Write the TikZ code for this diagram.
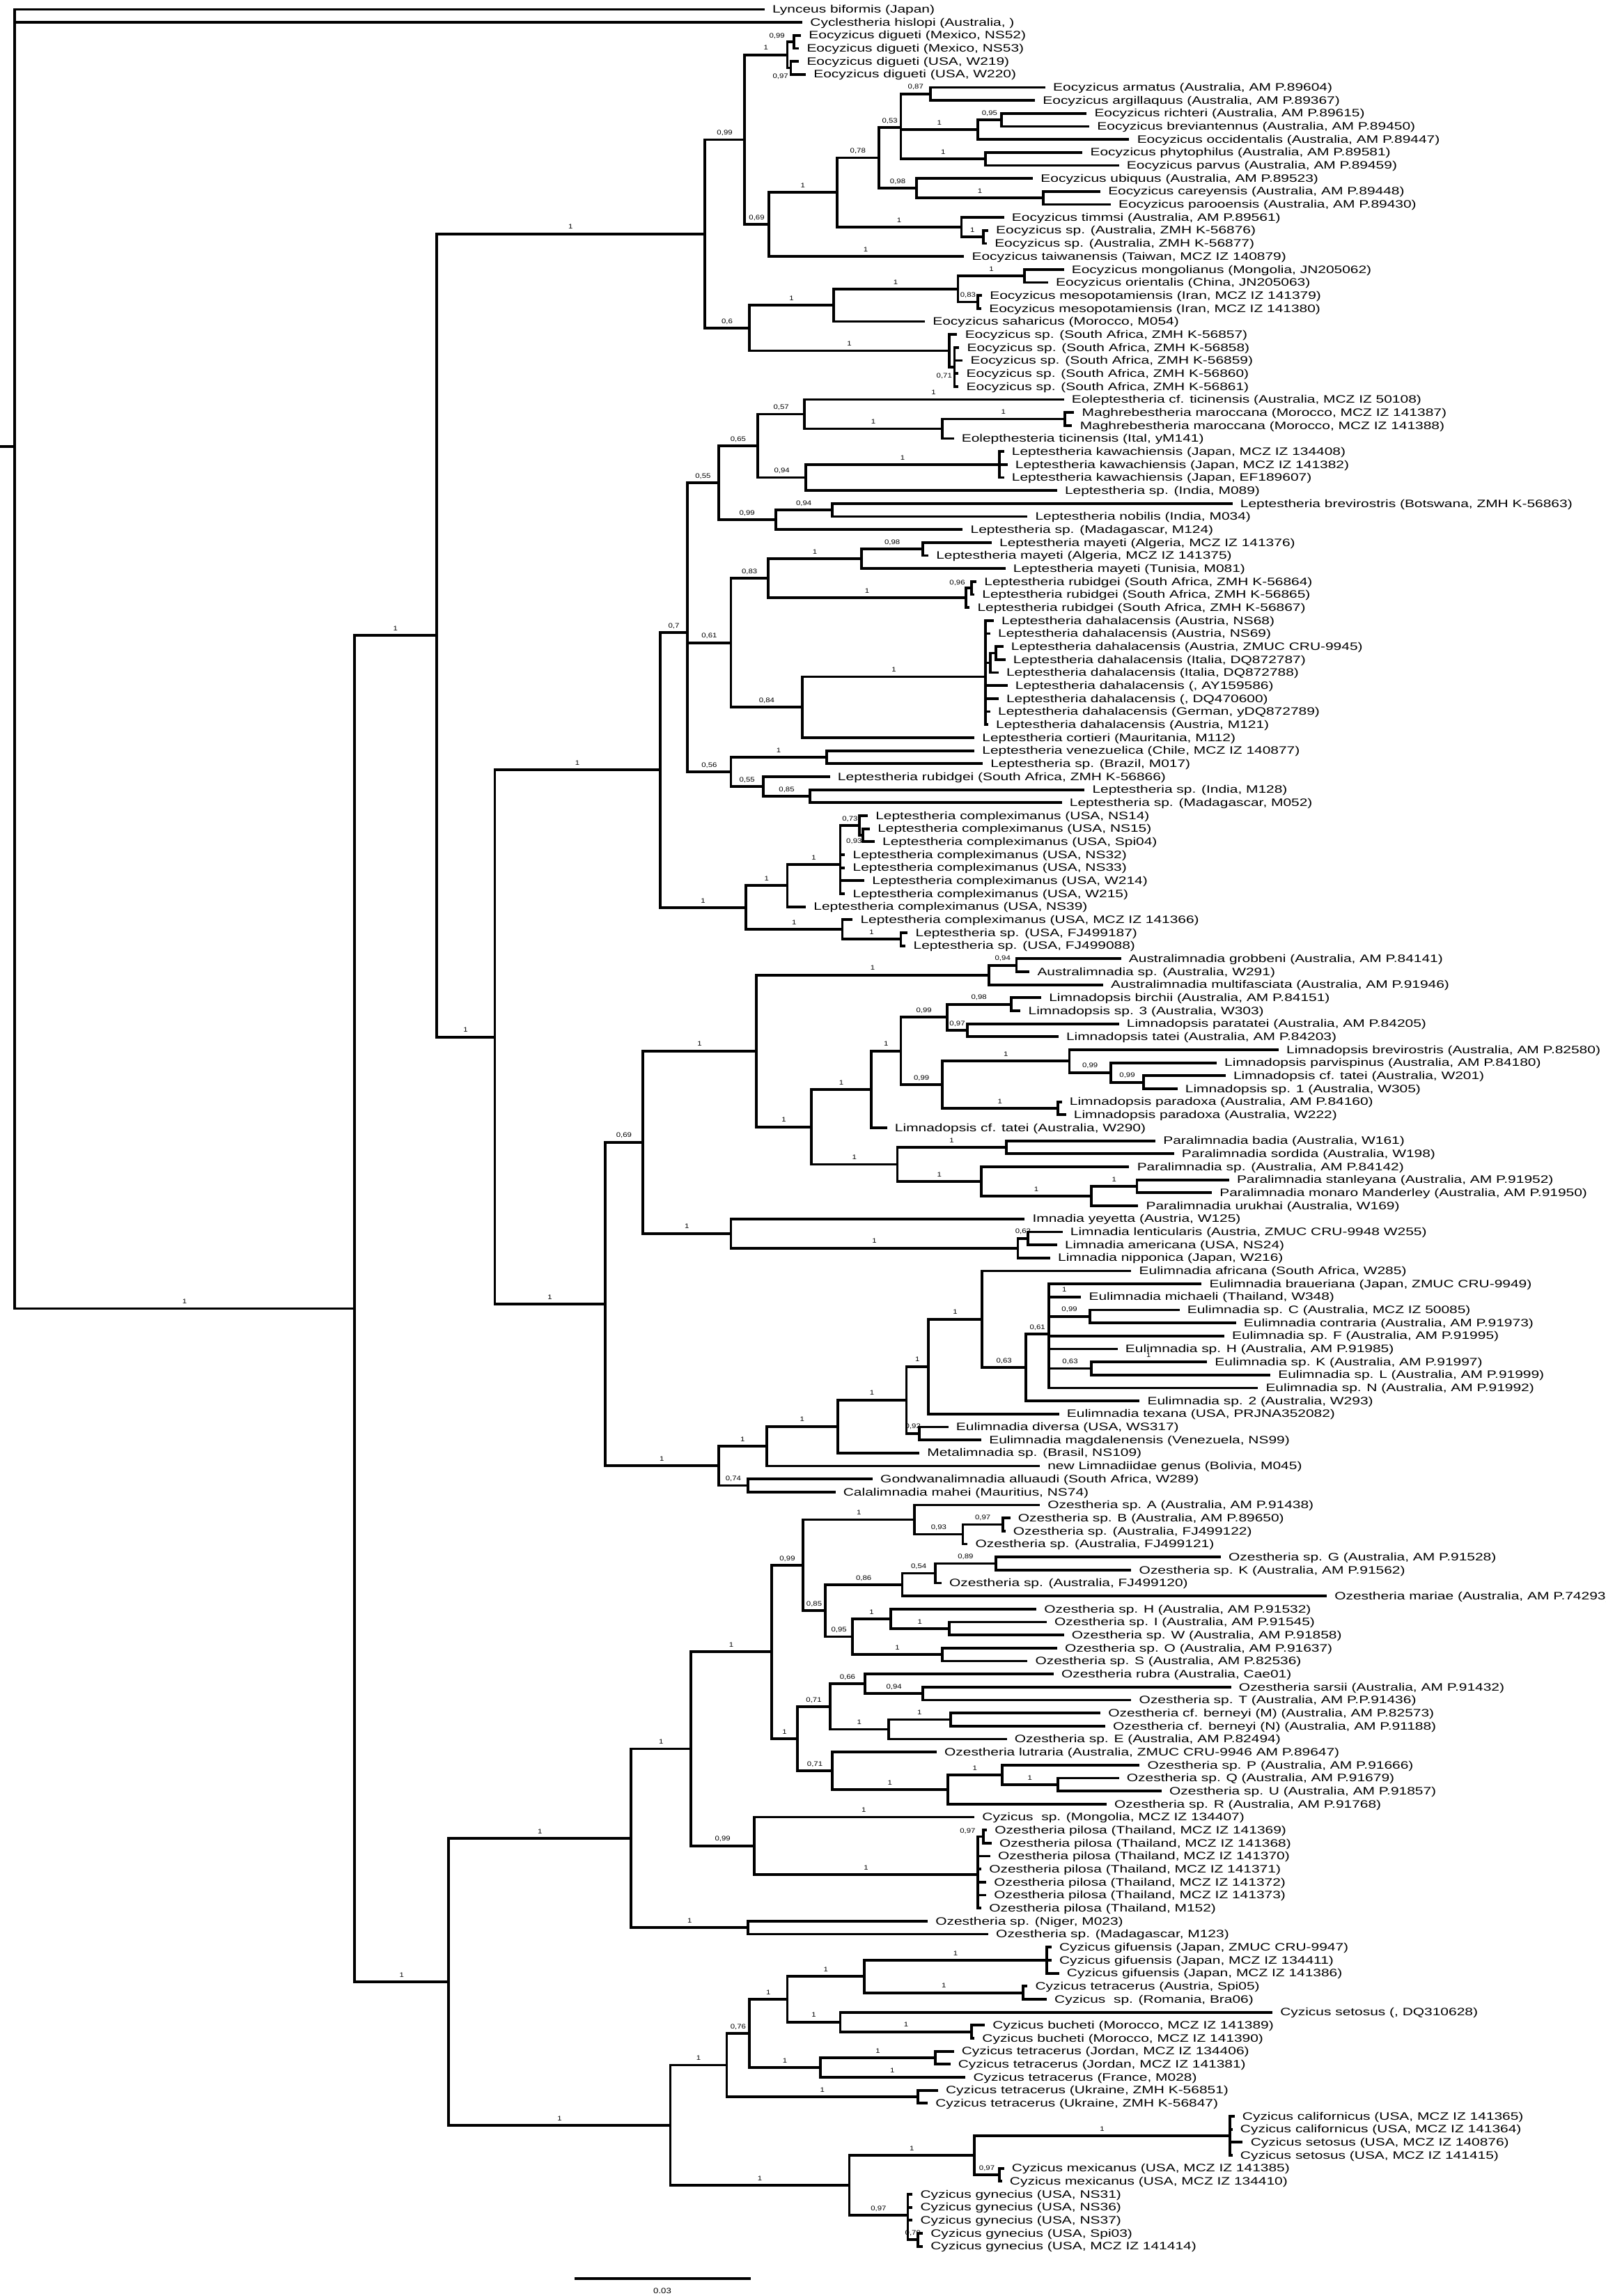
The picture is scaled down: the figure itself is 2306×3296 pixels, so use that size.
\documentclass[tikz,border=0pt]{standalone}
\usepackage{fontspec}
\setmainfont{Liberation Sans}
\usetikzlibrary{calc}
\newdimen\ysum
\newdimen\yfirst
\newcount\ncnt
\newcount\labcnt
\def\nolab{-}
\newcommand\lfont{\fontsize{15.5}{15.5}\selectfont}
\newcommand\sfont{\fontsize{9.5}{9.5}\selectfont}
\tikzset{
  br/.style={line width=3.8pt,line cap=rect},
  lab/.style={anchor=base west,inner sep=0pt,xshift=13pt,yshift=-5.2pt,font=\lfont},
  supl/.style={anchor=base,inner sep=0pt,yshift=6.8pt,font=\sfont},
  supc/.style={anchor=center,inner sep=0pt,font=\sfont},
}
\newcommand\lf[3]{%
  \coordinate (l#1) at ({0.988*#2+9.1},{13.4+18.67*#1});
  \node[lab] (t#1) at (l#1) {\scalebox{1.35}[1]{#3}};
}
\newcommand\tn[3]{%
  \global\ysum=0pt\relax
  \global\ncnt=0\relax
  \foreach \cc/\lb in {#3}{%
    \pgfextracty{\dimen0}{\pgfpointanchor{\cc}{center}}%
    \ifnum\ncnt=0 \global\yfirst=\dimen0 \xdef\firstc{\cc}\fi
    \advance\dimen0 by -\yfirst
    \global\advance\ysum by \dimen0
    \global\advance\ncnt by 1\relax
    \xdef\lastc{\cc}%
  }%
  \global\divide\ysum by \ncnt
  \global\advance\ysum by \yfirst
  \pgfmathsetmacro\nx{0.988*#2+9.1}%
  \coordinate (#1) at (\nx pt,\the\ysum);
  \draw[br] (#1 |- \firstc) -- (#1 |- \lastc);
  \foreach \cc/\lb in {#3}{%
    \draw[br] (#1 |- \cc) -- (\cc);
    \edef\tmp{\lb}%
    \ifx\tmp\nolab\else
      \global\advance\labcnt by 1\relax
      \path (#1 |- \cc) -- node[supl] (s\the\labcnt) {\scalebox{1.2}[1]{\lb}} (\cc);
    \fi
  }%
}
\newcommand\ol[3]{%
  \global\advance\labcnt by 1\relax
  \node[supc] (o\the\labcnt) at ({0.988*#1+9.1},#2) {\scalebox{1.2}[1]{#3}};
}
\begin{document}
\begin{tikzpicture}[x=1pt,y=-1pt]
\useasboundingbox (0,0) rectangle (2306,3296);
\coordinate (origin) at (0,0);
% ---------------- leaves ----------------
\lf{0}{1100}{Lynceus biformis (Japan)}
\lf{1}{1155}{Cyclestheria hislopi (Australia, )}
\lf{2}{1153}{Eocyzicus digueti (Mexico, NS52)}
\lf{3}{1150}{Eocyzicus digueti (Mexico, NS53)}
\lf{4}{1150}{Eocyzicus digueti (USA, W219)}
\lf{5}{1160}{Eocyzicus digueti (USA, W220)}
\lf{6}{1508}{Eocyzicus armatus (Australia, AM P.89604)}
\lf{7}{1493}{Eocyzicus argillaquus (Australia, AM P.89367)}
\lf{8}{1568}{Eocyzicus richteri (Australia, AM P.89615)}
\lf{9}{1572}{Eocyzicus breviantennus (Australia, AM P.89450)}
\lf{10}{1630}{Eocyzicus occidentalis (Australia, AM P.89447)}
\lf{11}{1562}{Eocyzicus phytophilus (Australia, AM P.89581)}
\lf{12}{1615}{Eocyzicus parvus (Australia, AM P.89459)}
\lf{13}{1490}{Eocyzicus ubiquus (Australia, AM P.89523)}
\lf{14}{1588}{Eocyzicus careyensis (Australia, AM P.89448)}
\lf{15}{1603}{Eocyzicus parooensis (Australia, AM P.89430)}
\lf{16}{1448}{Eocyzicus timmsi (Australia, AM P.89561)}
\lf{17}{1425}{Eocyzicus sp. (Australia, ZMH K-56876)}
\lf{18}{1423}{Eocyzicus sp. (Australia, ZMH K-56877)}
\lf{19}{1390}{Eocyzicus taiwanensis (Taiwan, MCZ IZ 140879)}
\lf{20}{1535}{Eocyzicus mongolianus (Mongolia, JN205062)}
\lf{21}{1512}{Eocyzicus orientalis (China, JN205063)}
\lf{22}{1416}{Eocyzicus mesopotamiensis (Iran, MCZ IZ 141379)}
\lf{23}{1415}{Eocyzicus mesopotamiensis (Iran, MCZ IZ 141380)}
\lf{24}{1333}{Eocyzicus saharicus (Morocco, M054)}
\lf{25}{1380}{Eocyzicus sp. (South Africa, ZMH K-56857)}
\lf{26}{1383}{Eocyzicus sp. (South Africa, ZMH K-56858)}
\lf{27}{1388}{Eocyzicus sp. (South Africa, ZMH K-56859)}
\lf{28}{1382}{Eocyzicus sp. (South Africa, ZMH K-56860)}
\lf{29}{1382}{Eocyzicus sp. (South Africa, ZMH K-56861)}
\lf{30}{1535}{Eoleptestheria cf. ticinensis (Australia, MCZ IZ 50108)}
\lf{31}{1550}{Maghrebestheria maroccana (Morocco, MCZ IZ 141387)}
\lf{32}{1547}{Maghrebestheria maroccana (Morocco, MCZ IZ 141388)}
\lf{33}{1375}{Eolepthesteria ticinensis (Ital, yM141)}
\lf{34}{1448}{Leptestheria kawachiensis (Japan, MCZ IZ 134408)}
\lf{35}{1453}{Leptestheria kawachiensis (Japan, MCZ IZ 141382)}
\lf{36}{1448}{Leptestheria kawachiensis (Japan, EF189607)}
\lf{37}{1525}{Leptestheria sp. (India, M089)}
\lf{38}{1780}{Leptestheria brevirostris (Botswana, ZMH K-56863)}
\lf{39}{1482}{Leptestheria nobilis (India, M034)}
\lf{40}{1388}{Leptestheria sp. (Madagascar, M124)}
\lf{41}{1430}{Leptestheria mayeti (Algeria, MCZ IZ 141376)}
\lf{42}{1338}{Leptestheria mayeti (Algeria, MCZ IZ 141375)}
\lf{43}{1450}{Leptestheria mayeti (Tunisia, M081)}
\lf{44}{1408}{Leptestheria rubidgei (South Africa, ZMH K-56864)}
\lf{45}{1405}{Leptestheria rubidgei (South Africa, ZMH K-56865)}
\lf{46}{1398}{Leptestheria rubidgei (South Africa, ZMH K-56867)}
\lf{47}{1433}{Leptestheria dahalacensis (Austria, NS68)}
\lf{48}{1428}{Leptestheria dahalacensis (Austria, NS69)}
\lf{49}{1447}{Leptestheria dahalacensis (Austria, ZMUC CRU-9945)}
\lf{50}{1450}{Leptestheria dahalacensis (Italia, DQ872787)}
\lf{51}{1440}{Leptestheria dahalacensis (Italia, DQ872788)}
\lf{52}{1453}{Leptestheria dahalacensis (, AY159586)}
\lf{53}{1440}{Leptestheria dahalacensis (, DQ470600)}
\lf{54}{1428}{Leptestheria dahalacensis (German, yDQ872789)}
\lf{55}{1425}{Leptestheria dahalacensis (Austria, M121)}
\lf{56}{1405}{Leptestheria cortieri (Mauritania, M112)}
\lf{57}{1405}{Leptestheria venezuelica (Chile, MCZ IZ 140877)}
\lf{58}{1417}{Leptestheria sp. (Brazil, M017)}
\lf{59}{1195}{Leptestheria rubidgei (South Africa, ZMH K-56866)}
\lf{60}{1565}{Leptestheria sp. (India, M128)}
\lf{61}{1532}{Leptestheria sp. (Madagascar, M052)}
\lf{62}{1250}{Leptestheria compleximanus (USA, NS14)}
\lf{63}{1253}{Leptestheria compleximanus (USA, NS15)}
\lf{64}{1260}{Leptestheria compleximanus (USA, Spi04)}
\lf{65}{1217}{Leptestheria compleximanus (USA, NS32)}
\lf{66}{1217}{Leptestheria compleximanus (USA, NS33)}
\lf{67}{1245}{Leptestheria compleximanus (USA, W214)}
\lf{68}{1217}{Leptestheria compleximanus (USA, W215)}
\lf{69}{1160}{Leptestheria compleximanus (USA, NS39)}
\lf{70}{1228}{Leptestheria compleximanus (USA, MCZ IZ 141366)}
\lf{71}{1308}{Leptestheria sp. (USA, FJ499187)}
\lf{72}{1305}{Leptestheria sp. (USA, FJ499088)}
\lf{73}{1618}{Australimnadia grobbeni (Australia, AM P.84141)}
\lf{74}{1485}{Australimnadia sp. (Australia, W291)}
\lf{75}{1592}{Australimnadia multifasciata (Australia, AM P.91946)}
\lf{76}{1502}{Limnadopsis birchii (Australia, AM P.84151)}
\lf{77}{1472}{Limnadopsis sp. 3 (Australia, W303)}
\lf{78}{1615}{Limnadopsis paratatei (Australia, AM P.84205)}
\lf{79}{1527}{Limnadopsis tatei (Australia, AM P.84203)}
\lf{80}{1847}{Limnadopsis brevirostris (Australia, AM P.82580)}
\lf{81}{1757}{Limnadopsis parvispinus (Australia, AM P.84180)}
\lf{82}{1770}{Limnadopsis cf. tatei (Australia, W201)}
\lf{83}{1700}{Limnadopsis sp. 1 (Australia, W305)}
\lf{84}{1532}{Limnadopsis paradoxa (Australia, AM P.84160)}
\lf{85}{1538}{Limnadopsis paradoxa (Australia, W222)}
\lf{86}{1278}{Limnadopsis cf. tatei (Australia, W290)}
\lf{87}{1668}{Paralimnadia badia (Australia, W161)}
\lf{88}{1695}{Paralimnadia sordida (Australia, W198)}
\lf{89}{1630}{Paralimnadia sp. (Australia, AM P.84142)}
\lf{90}{1775}{Paralimnadia stanleyana (Australia, AM P.91952)}
\lf{91}{1750}{Paralimnadia monaro Manderley (Australia, AM P.91950)}
\lf{92}{1643}{Paralimnadia urukhai (Australia, W169)}
\lf{93}{1478}{Imnadia yeyetta (Austria, W125)}
\lf{94}{1533}{Limnadia lenticularis (Austria, ZMUC CRU-9948 W255)}
\lf{95}{1525}{Limnadia americana (USA, NS24)}
\lf{96}{1515}{Limnadia nipponica (Japan, W216)}
\lf{97}{1633}{Eulimnadia africana (South Africa, W285)}
\lf{98}{1735}{Eulimnadia braueriana (Japan, ZMUC CRU-9949)}
\lf{99}{1560}{Eulimnadia michaeli (Thailand, W348)}
\lf{100}{1703}{Eulimnadia sp. C (Australia, MCZ IZ 50085)}
\lf{101}{1785}{Eulimnadia contraria (Australia, AM P.91973)}
\lf{102}{1768}{Eulimnadia sp. F (Australia, AM P.91995)}
\lf{103}{1613}{Eulimnadia sp. H (Australia, AM P.91985)}
\lf{104}{1743}{Eulimnadia sp. K (Australia, AM P.91997)}
\lf{105}{1835}{Eulimnadia sp. L (Australia, AM P.91999)}
\lf{106}{1817}{Eulimnadia sp. N (Australia, AM P.91992)}
\lf{107}{1645}{Eulimnadia sp. 2 (Australia, W293)}
\lf{108}{1528}{Eulimnadia texana (USA, PRJNA352082)}
\lf{109}{1367}{Eulimnadia diversa (USA, WS317)}
\lf{110}{1415}{Eulimnadia magdalenensis (Venezuela, NS99)}
\lf{111}{1325}{Metalimnadia sp. (Brasil, NS109)}
\lf{112}{1500}{new Limnadiidae genus (Bolivia, M045)}
\lf{113}{1257}{Gondwanalimnadia alluaudi (South Africa, W289)}
\lf{114}{1203}{Calalimnadia mahei (Mauritius, NS74)}
\lf{115}{1500}{Ozestheria sp. A (Australia, AM P.91438)}
\lf{116}{1457}{Ozestheria sp. B (Australia, AM P.89650)}
\lf{117}{1450}{Ozestheria sp. (Australia, FJ499122)}
\lf{118}{1395}{Ozestheria sp. (Australia, FJ499121)}
\lf{119}{1763}{Ozestheria sp. G (Australia, AM P.91528)}
\lf{120}{1633}{Ozestheria sp. K (Australia, AM P.91562)}
\lf{121}{1357}{Ozestheria sp. (Australia, FJ499120)}
\lf{122}{1917}{Ozestheria mariae (Australia, AM P.74293)}
\lf{123}{1495}{Ozestheria sp. H (Australia, AM P.91532)}
\lf{124}{1510}{Ozestheria sp. I (Australia, AM P.91545)}
\lf{125}{1535}{Ozestheria sp. W (Australia, AM P.91858)}
\lf{126}{1525}{Ozestheria sp. O (Australia, AM P.91637)}
\lf{127}{1482}{Ozestheria sp. S (Australia, AM P.82536)}
\lf{128}{1520}{Ozestheria rubra (Australia, Cae01)}
\lf{129}{1778}{Ozestheria sarsii (Australia, AM P.91432)}
\lf{130}{1633}{Ozestheria sp. T (Australia, AM P.P.91436)}
\lf{131}{1588}{Ozestheria cf. berneyi (M) (Australia, AM P.82573)}
\lf{132}{1595}{Ozestheria cf. berneyi (N) (Australia, AM P.91188)}
\lf{133}{1452}{Ozestheria sp. E (Australia, AM P.82494)}
\lf{134}{1350}{Ozestheria lutraria (Australia, ZMUC CRU-9946 AM P.89647)}
\lf{135}{1645}{Ozestheria sp. P (Australia, AM P.91666)}
\lf{136}{1615}{Ozestheria sp. Q (Australia, AM P.91679)}
\lf{137}{1677}{Ozestheria sp. U (Australia, AM P.91857)}
\lf{138}{1597}{Ozestheria sp. R (Australia, AM P.91768)}
\lf{139}{1405}{Cyzicus\ \ sp. (Mongolia, MCZ IZ 134407)}
\lf{140}{1423}{Ozestheria pilosa (Thailand, MCZ IZ 141369)}
\lf{141}{1430}{Ozestheria pilosa (Thailand, MCZ IZ 141368)}
\lf{142}{1428}{Ozestheria pilosa (Thailand, MCZ IZ 141370)}
\lf{143}{1415}{Ozestheria pilosa (Thailand, MCZ IZ 141371)}
\lf{144}{1422}{Ozestheria pilosa (Thailand, MCZ IZ 141372)}
\lf{145}{1422}{Ozestheria pilosa (Thailand, MCZ IZ 141373)}
\lf{146}{1415}{Ozestheria pilosa (Thailand, M152)}
\lf{147}{1337}{Ozestheria sp. (Niger, M023)}
\lf{148}{1425}{Ozestheria sp. (Madagascar, M123)}
\lf{149}{1517}{Cyzicus gifuensis (Japan, ZMUC CRU-9947)}
\lf{150}{1517}{Cyzicus gifuensis (Japan, MCZ IZ 134411)}
\lf{151}{1528}{Cyzicus gifuensis (Japan, MCZ IZ 141386)}
\lf{152}{1482}{Cyzicus tetracerus (Austria, Spi05)}
\lf{153}{1510}{Cyzicus\ \ sp. (Romania, Bra06)}
\lf{154}{1838}{Cyzicus setosus (, DQ310628)}
\lf{155}{1420}{Cyzicus bucheti (Morocco, MCZ IZ 141389)}
\lf{156}{1405}{Cyzicus bucheti (Morocco, MCZ IZ 141390)}
\lf{157}{1375}{Cyzicus tetracerus (Jordan, MCZ IZ 134406)}
\lf{158}{1370}{Cyzicus tetracerus (Jordan, MCZ IZ 141381)}
\lf{159}{1392}{Cyzicus tetracerus (France, M028)}
\lf{160}{1352}{Cyzicus tetracerus (Ukraine, ZMH K-56851)}
\lf{161}{1337}{Cyzicus tetracerus (Ukraine, ZMH K-56847)}
\lf{162}{1783}{Cyzicus californicus (USA, MCZ IZ 141365)}
\lf{163}{1780}{Cyzicus californicus (USA, MCZ IZ 141364)}
\lf{164}{1795}{Cyzicus setosus (USA, MCZ IZ 140876)}
\lf{165}{1780}{Cyzicus setosus (USA, MCZ IZ 141415)}
\lf{166}{1448}{Cyzicus mexicanus (USA, MCZ IZ 141385)}
\lf{167}{1445}{Cyzicus mexicanus (USA, MCZ IZ 134410)}
\lf{168}{1315}{Cyzicus gynecius (USA, NS31)}
\lf{169}{1315}{Cyzicus gynecius (USA, NS36)}
\lf{170}{1315}{Cyzicus gynecius (USA, NS37)}
\lf{171}{1330}{Cyzicus gynecius (USA, Spi03)}
\lf{172}{1330}{Cyzicus gynecius (USA, MCZ IZ 141414)}
% ---------------- Eocyzicus ----------------
\tn{nDa}{1145}{l2/-,l3/-}
\tn{nDb}{1140}{l4/-,l5/-}
\tn{nD}{1135}{nDa/-,nDb/-}
\tn{nEa}{1343}{l6/-,l7/-}
\tn{nEq}{1446}{l8/-,l9/-}
\tn{nEg}{1412}{nEq/{0,95},l10/-}
\tn{nEh}{1423}{l11/-,l12/-}
\tn{nEe}{1300}{nEa/{0,87},nEg/1,nEh/1}
\tn{nEcp}{1507}{l14/-,l15/-}
\tn{nEf}{1323}{l13/-,nEcp/1}
\tn{nEd}{1268}{nEe/{0,53},nEf/{0,98}}
\tn{nEk}{1420}{l17/-,l18/-}
\tn{nT}{1388}{l16/-,nEk/1}
\tn{nEc}{1207}{nEd/{0,78},nT/1}
\tn{nEb}{1108}{nEc/1,l19/1}
\tn{nEone}{1073}{nD/1,nEb/{0,69}}
\tn{nMO}{1480}{l20/-,l21/-}
\tn{nME}{1412}{l22/-,l23/-}
\tn{nEtb}{1383}{nMO/1,nME/{0,83}}
\tn{nEta}{1202}{nEtb/1,l24/-}
\tn{nSb}{1378}{l26/-,l27/-,l28/-,l29/-}
\tn{nSA}{1370}{l25/-,nSb/-}
\tn{nEtwo}{1080}{nEta/1,nSA/1}
\tn{nE}{1015}{nEone/{0,99},nEtwo/{0,6}}
% ---------------- Leptestheriidae ----------------
\tn{nMG}{1538}{l31/-,l32/-}
\tn{nM}{1360}{nMG/1,l33/-}
\tn{nFs}{1160}{l30/1,nM/1}
\tn{nKW}{1443}{l34/-,l35/-,l36/-}
\tn{nNa}{1162}{nKW/1,l37/-}
\tn{nSf}{1092}{nFs/{0,57},nNa/{0,94}}
\tn{nNb}{1200}{l38/-,l39/-}
\tn{nNN}{1118}{nNb/{0,94},l40/-}
\tn{nFFa}{1035}{nSf/{0,65},nNN/{0,99}}
\tn{nMYa}{1332}{l41/-,l42/-}
\tn{nMY}{1243}{nMYa/{0,98},l43/-}
\tn{nRBa}{1403}{l44/-,l45/-}
\tn{nRB}{1395}{nRBa/-,l46/-}
\tn{nEt}{1107}{nMY/1,nRB/1}
\tn{nDc}{1438}{l49/-,l50/-}
\tn{nDb2}{1430}{nDc/-,l51/-}
\tn{nDH}{1423}{l47/-,l48/-,nDb2/-,l52/-,l53/-,l54/-,l55/-}
\tn{nEf4}{1157}{nDH/1,l56/-}
\tn{nSo}{1053}{nEt/{0,83},nEf4/{0,84}}
\tn{nVZ}{1192}{l57/-,l58/-}
\tn{nEfv}{1168}{l60/-,l61/-}
\tn{nFFb}{1100}{l59/-,nEfv/{0,85}}
\tn{nFS}{1053}{nVZ/1,nFFb/{0,55}}
\tn{nSev}{990}{nFFa/{0,55},nSo/{0,61},nFS/{0,56}}
\tn{nNT}{1245}{l63/-,l64/-}
\tn{nST}{1240}{l62/-,nNT/-}
\tn{nCXb}{1212}{nST/{0,73},l65/-,l66/-,l67/-,l68/-}
\tn{nCXa}{1135}{nCXb/1,l69/-}
\tn{nFJ}{1300}{l71/-,l72/-}
\tn{nCXc}{1215}{l70/-,nFJ/1}
\tn{nCX}{1075}{nCXa/1,nCXc/1}
\tn{nLP}{950}{nSev/{0,7},nCX/1}
% ---------------- Limnadiidae ----------------
\tn{nAUa}{1468}{l73/-,l74/-}
\tn{nAU}{1428}{nAUa/{0,94},l75/-}
\tn{nBI}{1460}{l76/-,l77/-}
\tn{nPT}{1397}{l78/-,l79/-}
\tn{nLDa}{1367}{nBI/{0,98},nPT/{0,97}}
\tn{nWW}{1653}{l82/-,l83/-}
\tn{nPV}{1605}{l81/-,nWW/{0,99}}
\tn{nBR}{1545}{l80/-,nPV/{0,99}}
\tn{nPX}{1528}{l84/-,l85/-}
\tn{nLDb}{1360}{nBR/1,nPX/1}
\tn{nLDo}{1300}{nLDa/{0,99},nLDb/{0,99}}
\tn{nLD}{1257}{nLDo/1,l86/-}
\tn{nBS}{1453}{l87/-,l88/-}
\tn{nSM}{1643}{l90/-,l91/-}
\tn{nSU}{1577}{nSM/1,l92/-}
\tn{nPS}{1417}{l89/-,nSU/1}
\tn{nPA}{1295}{nBS/1,nPS/1}
\tn{nLAb}{1170}{nLD/1,nPA/1}
\tn{nLA}{1090}{nAU/1,nLAb/1}
\tn{nLIa}{1485}{l94/-,l95/-}
\tn{nLI}{1470}{nLIa/{0,62},l96/-}
\tn{nLB}{1053}{l93/-,nLI/1}
\tn{nSN}{925}{nLA/1,nLB/1}
\tn{nCN}{1575}{l100/-,l101/-}
\tn{nKL}{1577}{l104/1,l105/-}
\tn{nEUc}{1515}{l98/-,l99/1,nCN/{0,99},l102/-,l103/-,nKL/{0,63},l106/-}
\tn{nEUb}{1482}{nEUc/{0,61},l107/-}
\tn{nEU}{1418}{l97/-,nEUb/{0,63}}
\tn{nLEd}{1340}{nEU/1,l108/-}
\tn{nDV}{1327}{l109/-,l110/-}
\tn{nLEc}{1308}{nLEd/1,nDV/{0,92}}
\tn{nLEb}{1208}{nLEc/1,l111/-}
\tn{nLEa}{1105}{nLEb/1,l112/-}
\tn{nGC}{1078}{l113/-,l114/-}
\tn{nLE}{1035}{nLEa/1,nGC/{0,74}}
\tn{nLM}{870}{nSN/{0,69},nLE/1}
% ---------------- Cyzicidae ----------------
\tn{nOBa}{1448}{l116/-,l117/-}
\tn{nOBb}{1390}{nOBa/{0,97},l118/-}
\tn{nOe}{1320}{l115/-,nOBb/{0,93}}
\tn{nOEN}{1438}{l119/-,l120/-}
\tn{nOFF}{1350}{nOEN/{0,89},l121/-}
\tn{nOES}{1302}{nOFF/{0,54},l122/-}
\tn{nOIW}{1370}{l124/-,l125/-}
\tn{nOH}{1285}{l123/-,nOIW/1}
\tn{nOOS}{1360}{l126/-,l127/-}
\tn{nONF}{1230}{nOH/1,nOOS/1}
\tn{nOf}{1190}{nOES/{0,86},nONF/{0,95}}
\tn{nOd}{1158}{nOe/1,nOf/{0,85}}
\tn{nONT}{1332}{l129/-,l130/-}
\tn{nOSS}{1248}{l128/-,nONT/{0,94}}
\tn{nOMN}{1372}{l131/-,l132/-}
\tn{nOE}{1282}{nOMN/1,l133/-}
\tn{nOh}{1197}{nOSS/{0,66},nOE/1}
\tn{nOQU}{1528}{l136/-,l137/-}
\tn{nOP}{1447}{l135/-,nOQU/1}
\tn{nOPR}{1368}{nOP/1,l138/-}
\tn{nOi}{1200}{l134/-,nOPR/1}
\tn{nOg}{1150}{nOh/{0,71},nOi/{0,71}}
\tn{nOc}{1112}{nOd/{0,99},nOg/1}
\tn{nPNS}{1420}{l140/-,l141/-}
\tn{nPL}{1412}{nPNS/-,l142/-,l143/-,l144/-,l145/-,l146/-}
\tn{nOj}{1087}{l139/1,nPL/1}
\tn{nOa}{995}{nOc/1,nOj/{0,99}}
\tn{nOb}{1078}{l147/-,l148/-}
\tn{nOZ}{908}{nOa/1,nOb/1}
\tn{nGF}{1512}{l149/-,l150/-,l151/-}
\tn{nTR}{1478}{l152/-,l153/-}
\tn{nCYd}{1247}{nGF/1,nTR/1}
\tn{nBU}{1403}{l155/-,l156/-}
\tn{nCYe}{1212}{l154/-,nBU/1}
\tn{nCYc}{1135}{nCYd/1,nCYe/1}
\tn{nJO}{1350}{l157/-,l158/-}
\tn{nCYf}{1183}{nJO/1,l159/1}
\tn{nCYb}{1080}{nCYc/1,nCYf/1}
\tn{nUK}{1325}{l160/-,l161/-}
\tn{nCYa}{1047}{nCYb/{0,76},nUK/1}
\tn{nCA}{1778}{l162/-,l163/-,l164/-,l165/-}
\tn{nMX}{1443}{l166/-,l167/-}
\tn{nCYh}{1407}{nCA/1,nMX/{0,97}}
\tn{nGS}{1325}{l171/-,l172/-}
\tn{nCYi}{1310}{l168/-,l169/-,l170/-,nGS/{0,79}}
\tn{nCYg}{1225}{nCYh/1,nCYi/{0,97}}
\tn{nCY}{965}{nCYa/1,nCYg/1}
\tn{nCZ}{643}{nOZ/1,nCY/1}
% ---------------- deep nodes ----------------
\tn{nPthree}{710}{nLP/1,nLM/1}
\tn{nPtwo}{625}{nE/1,nPthree/1}
\tn{nPone}{506}{nPtwo/1,nCZ/1}
\tn{root}{12}{l0/-,l1/-,nPone/1}
\draw[br] (root) -- (root -| origin);
% ---------------- displaced support values ----------------
\ol{1120}{51.6}{0,99}
\ol{1125}{109.6}{0,97}
\ol{1363}{540}{0,71}
\ol{1382}{837}{0,96}
\ol{1232}{1207.5}{0,93}
\ol{1397}{2629}{0,97}
% ---------------- scale bar ----------------
\coordinate (sba) at (827,3271);
\coordinate (sbb) at (1076,3271);
\draw[br] (sba) -- (sbb);
\node[inner sep=0pt,font=\fontsize{11}{11}\selectfont] (sbl) at (951,3289) {\scalebox{1.2}[1]{0.03}};
\end{tikzpicture}
\end{document}
